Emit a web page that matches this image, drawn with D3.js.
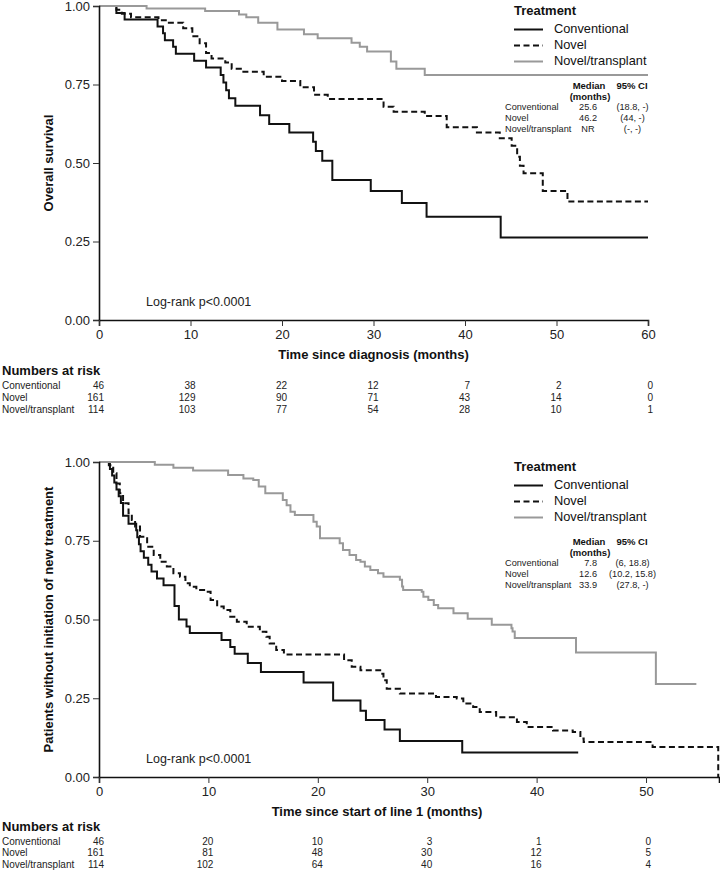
<!DOCTYPE html>
<html><head><meta charset="utf-8">
<script src="https://cdn.jsdelivr.net/npm/d3@7"></script>
<style>
body{margin:0;background:#fff;}
svg text{font-family:"Liberation Sans",Arial,Helvetica,sans-serif;}
</style></head>
<body><svg id="c" width="720" height="874"></svg>
<script>
// ---------- DATA ----------
const groups = ["Conventional", "Novel", "Novel/transplant"];
const osTicks = [0, 10, 20, 30, 40, 50, 60];
const pfsTicks = [0, 10, 20, 30, 40, 50];
const yTicks = [0, 0.25, 0.5, 0.75, 1];

// Overall survival: [months, survival]
const osConventional = [[0,1],[1.9,.978],[2.8,.957],[6.4,.935],[7.0,.913],[7.2,.891],[8.1,.870],[8.4,.848],[10.4,.826],[11.7,.804],[13.3,.78],[13.6,.756],[13.9,.732],[14.2,.706],[14.9,.682],[17.6,.652],[18.6,.624],[20.8,.597],[23.4,.568],[23.7,.538],[24.4,.507],[25.5,.446],[29.7,.411],[33.1,.373],[35.8,.329],[43.9,.263]];
const osNovel = [[0,1],[1.9,.988],[2.5,.975],[3.5,.964],[6.5,.955],[7.3,.947],[9.2,.929],[10.2,.904],[11.0,.881],[11.7,.85],[12.3,.833],[13.8,.82],[14.5,.80],[15.5,.791],[18,.775],[20,.761],[22,.741],[23.5,.717],[25,.704],[31.1,.679],[32.2,.663],[35.6,.65],[38,.614],[41.3,.597],[43.8,.579],[45.1,.555],[45.7,.52],[46.0,.491],[46.4,.467],[48.5,.411],[51.2,.377]];
const osTransplant = [[0,1],[5.2,.992],[11.6,.984],[15.3,.973],[16.1,.964],[17.4,.947],[19.5,.925],[22.4,.91],[23.9,.897],[27.6,.883],[28.5,.87],[29.3,.855],[31.9,.823],[32.5,.80],[35.6,.78]];
const osEnd = [60, 60, 60];

// Time to next treatment: [months, proportion]
const pfsConventional = [[0,1],[1.0,.978],[1.2,.957],[1.4,.935],[1.6,.913],[1.8,.891],[2.0,.87],[2.2,.829],[2.7,.804],[3.4,.783],[3.5,.761],[3.65,.739],[3.8,.717],[4.1,.696],[4.5,.674],[4.8,.652],[5.3,.63],[5.9,.609],[6.9,.543],[7.3,.50],[8.0,.478],[8.3,.457],[11.2,.435],[12.0,.413],[12.4,.391],[13.6,.362],[14.8,.333],[18.7,.30],[21.4,.243],[23.9,.21],[24.4,.181],[26.1,.151],[27.5,.114],[33.2,.078]];
const pfsNovel = [[0,1],[0.9,.99],[1.3,.964],[1.6,.932],[1.9,.901],[2.2,.869],[2.7,.837],[3.0,.816],[3.3,.795],[3.75,.763],[4.4,.731],[5.0,.705],[5.6,.683],[6.2,.668],[6.8,.647],[7.4,.636],[7.9,.615],[8.3,.604],[8.9,.594],[9.8,.588],[10.2,.562],[10.8,.541],[11.4,.53],[12.0,.509],[12.6,.493],[13.5,.477],[14.7,.461],[15.3,.445],[15.6,.424],[16.2,.403],[16.9,.389],[22.4,.371],[23.1,.35],[23.9,.339],[25.7,.328],[26.0,.307],[26.3,.28],[27.5,.265],[30.8,.254],[32.7,.249],[33.3,.233],[34.2,.222],[34.8,.206],[36.3,.19],[38.2,.175],[39.1,.159],[41.5,.148],[43.3,.143],[44.0,.122],[44.3,.111],[50.6,.095],[56.6,0]];
const pfsTransplant = [[0,1],[5.1,.991],[6.8,.982],[8.6,.973],[11.8,.959],[13.2,.948],[14.1,.943],[14.6,.922],[15.2,.901],[16.8,.879],[17.15,.863],[17.5,.842],[17.9,.832],[19.6,.81],[19.9,.795],[20.2,.758],[22.0,.742],[22.3,.721],[22.9,.705],[23.5,.689],[23.9,.683],[24.3,.668],[24.8,.657],[25.5,.647],[26.0,.636],[27.5,.626],[27.7,.605],[27.8,.594],[29.5,.588],[29.65,.572],[30.1,.562],[30.6,.546],[31.0,.536],[32.4,.52],[33.7,.502],[35.9,.483],[37.7,.472],[37.8,.462],[38.0,.441],[43.6,.395],[50.9,.295]];
const pfsEnd = [43.8, 56.6, 54.6];

// Numbers at risk
const osRisk = [[46,38,22,12,7,2,0],[161,129,90,71,43,14,0],[114,103,77,54,28,10,1]];
const pfsRisk = [[46,20,10,3,1,0],[161,81,48,30,12,5],[114,102,64,40,16,4]];

// Median tables
const osMedian = ["25.6", "46.2", "NR"];
const osCI = ["(18.8, -)", "(44, -)", "(-, -)"];
const pfsMedian = ["7.8", "12.6", "33.9"];
const pfsCI = ["(6, 18.8)", "(10.2, 15.8)", "(27.8, -)"];

// ---------- DRAW ----------
const svg = d3.select("#c");
const styles = [
  {stroke:"#111", dash:null},
  {stroke:"#111", dash:"6,3.5"},
  {stroke:"#999", dash:null}
];

function panel(cfg){
  const g = svg.append("g");
  const x = d3.scaleLinear().domain(cfg.xDomain).range(cfg.xRange);
  const y = d3.scaleLinear().domain([0,1]).range(cfg.yRange);

  // curves
  const line = d3.line().x(d=>x(d[0])).y(d=>y(d[1])).curve(d3.curveStepAfter);
  cfg.curves.forEach((c,i)=>{
    const pts = c.concat([[cfg.ends[i], c[c.length-1][1]]]);
    g.append("path").attr("d", line(pts)).attr("fill","none")
      .attr("stroke", styles[i].stroke).attr("stroke-width", 2)
      .attr("stroke-dasharray", styles[i].dash);
  });

  // axes
  const ya = g.append("g").attr("transform",`translate(${cfg.xRange[0]},0)`)
    .call(d3.axisLeft(y).tickValues(yTicks).tickFormat(d3.format(".2f")).tickSizeOuter(0).tickSize(6).tickPadding(3));
  const xa = g.append("g").attr("transform",`translate(0,${cfg.yRange[0]})`)
    .call(d3.axisBottom(x).tickValues(cfg.xTicks).tickSizeOuter(0).tickSize(6).tickPadding(4));
  [ya, xa].forEach(a=>{
    a.select(".domain").attr("stroke","#111").attr("stroke-width",1.6);
    a.selectAll(".tick line").attr("stroke","#333").attr("stroke-width",1);
    a.selectAll(".tick text").attr("font-size",13).attr("fill","#222")
      .attr("font-family","'Liberation Sans',Arial,sans-serif");
  });

  // axis titles
  const ymid = (cfg.yRange[0]+cfg.yRange[1])/2;
  g.append("text").attr("transform",`translate(50,${ymid}) rotate(-90)`)
    .attr("text-anchor","middle").attr("dominant-baseline","middle")
    .attr("font-size",13).attr("font-weight","bold").attr("fill","#111").text(cfg.yTitle);
  g.append("text").attr("x",(cfg.xRange[0]+x(cfg.xDomain[1]))/2 + cfg.titleShift).attr("y",cfg.yRange[0]+36)
    .attr("text-anchor","middle").attr("dominant-baseline","middle")
    .attr("font-size",13).attr("font-weight","bold").attr("fill","#111").text(cfg.xTitle);

  // log-rank
  g.append("text").attr("x",146).attr("y",cfg.yRange[0]-17).attr("dominant-baseline","middle")
    .attr("font-size",12.5).attr("fill","#222").text("Log-rank p<0.0001");

  // legend
  const ly = cfg.yRange[1];
  g.append("text").attr("x",514).attr("y",ly+6).attr("dominant-baseline","middle")
    .attr("font-size",13).attr("font-weight","bold").attr("fill","#111").text("Treatment");
  groups.forEach((name,i)=>{
    const yy = ly + 23.5 + i*16;
    g.append("line").attr("x1",514).attr("x2",543).attr("y1",yy).attr("y2",yy)
      .attr("stroke",styles[i].stroke).attr("stroke-width",2).attr("stroke-dasharray",styles[i].dash);
    g.append("text").attr("x",554).attr("y",yy).attr("dominant-baseline","middle")
      .attr("font-size",12.8).attr("fill","#111").text(name);
  });

  // median table
  const ty = ly + cfg.tableOffset;
  g.append("text").attr("x",589).attr("y",ty).attr("text-anchor","middle").attr("dominant-baseline","middle")
    .attr("font-size",9.5).attr("font-weight","bold").attr("fill","#111").text("Median");
  g.append("text").attr("x",590).attr("y",ty+11).attr("text-anchor","middle").attr("dominant-baseline","middle")
    .attr("font-size",9.5).attr("font-weight","bold").attr("fill","#111").text("(months)");
  g.append("text").attr("x",632).attr("y",ty).attr("text-anchor","middle").attr("dominant-baseline","middle")
    .attr("font-size",9.5).attr("font-weight","bold").attr("fill","#111").text("95% CI");
  groups.forEach((name,i)=>{
    const yy = ty + 21.3 + i*11;
    g.append("text").attr("x",505).attr("y",yy).attr("dominant-baseline","middle")
      .attr("font-size",9.2).attr("fill","#222").text(name);
    const v = cfg.median[i];
    const numeric = !isNaN(+v);
    g.append("text").attr("x",numeric?597:588).attr("y",yy).attr("text-anchor",numeric?"end":"middle")
      .attr("dominant-baseline","middle").attr("font-size",9.2).attr("fill","#222").text(v);
    g.append("text").attr("x",632.5).attr("y",yy).attr("text-anchor","middle").attr("dominant-baseline","middle")
      .attr("font-size",9.2).attr("fill","#222").text(cfg.ci[i]);
  });

  // numbers at risk
  const ry = cfg.riskY;
  g.append("text").attr("x",2).attr("y",ry).attr("dominant-baseline","middle")
    .attr("font-size",13).attr("font-weight","bold").attr("fill","#111").text("Numbers at risk");
  groups.forEach((name,i)=>{
    const yy = ry + 14 + i*cfg.riskGap;
    g.append("text").attr("x",2).attr("y",yy).attr("dominant-baseline","middle")
      .attr("font-size",10).attr("fill","#222").text(name);
    cfg.risk[i].forEach((n,j)=>{
      g.append("text").attr("x",x(cfg.xTicks[j])+5).attr("y",yy).attr("text-anchor","end")
        .attr("dominant-baseline","middle").attr("font-size",10).attr("fill","#222").text(n);
    });
  });
}

panel({
  xDomain:[0,60], xRange:[99,648], yRange:[320,6], xTicks:osTicks,
  curves:[osConventional, osNovel, osTransplant], ends:osEnd,
  yTitle:"Overall survival", xTitle:"Time since diagnosis (months)", titleShift:0,
  tableOffset:80.7, median:osMedian, ci:osCI,
  riskY:372, riskGap:12, risk:osRisk
});
panel({
  xDomain:[0,56.67], xRange:[99,719], yRange:[777,462], xTicks:pfsTicks,
  curves:[pfsConventional, pfsNovel, pfsTransplant], ends:pfsEnd,
  yTitle:"Patients without initiation of new treatment", xTitle:"Time since start of line 1 (months)", titleShift:-32,
  tableOffset:80.7, median:pfsMedian, ci:pfsCI,
  riskY:828, riskGap:11.5, risk:pfsRisk
});
</script></body></html>
